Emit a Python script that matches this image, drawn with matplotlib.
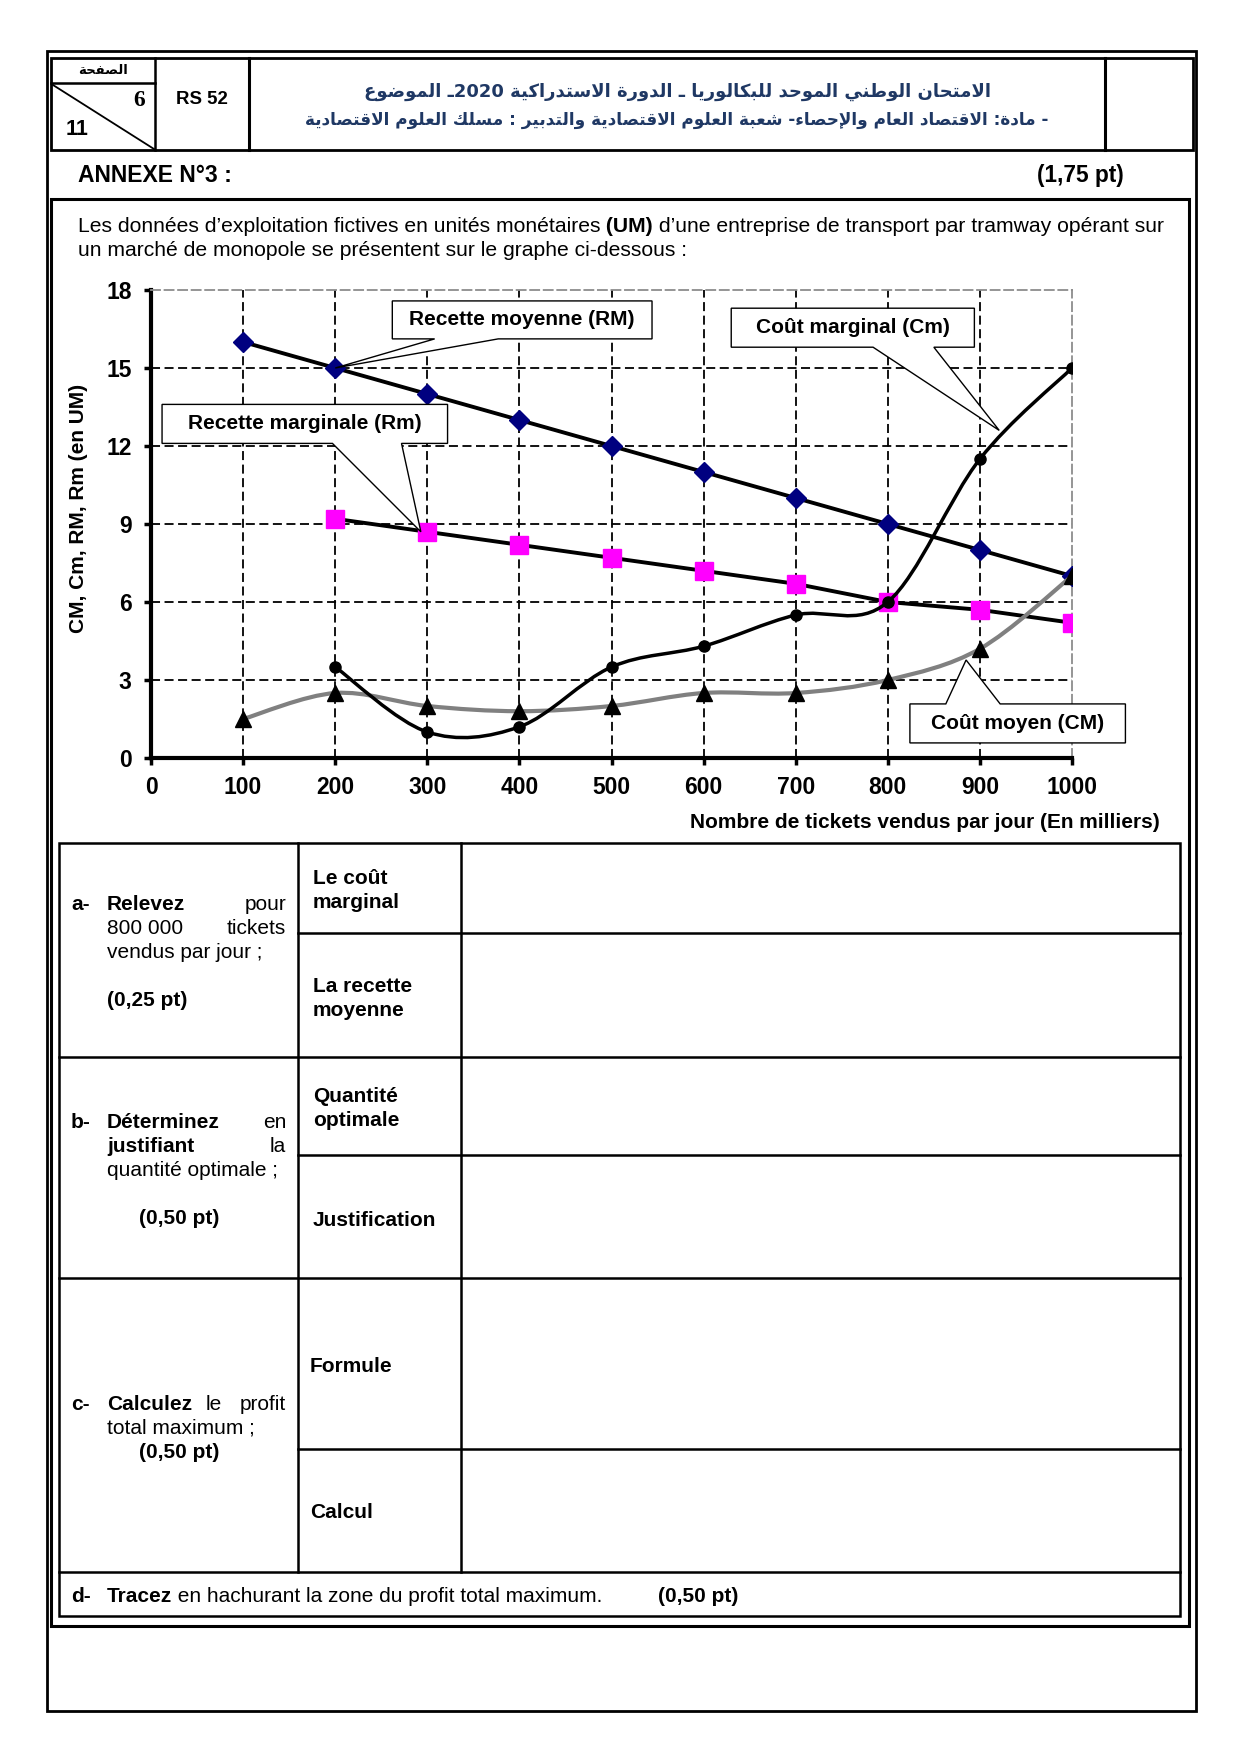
import re
import numpy as np
import matplotlib
matplotlib.use('Agg')
import matplotlib.pyplot as plt
from matplotlib.path import Path
from matplotlib.patches import PathPatch, Polygon, Rectangle

plt.rcParams['font.family'] = ['Liberation Sans', 'DejaVu Sans']

# --- chart data ---
quantites = [100, 200, 300, 400, 500, 600, 700, 800, 900, 1000]
recette_moyenne = [16, 15, 14, 13, 12, 11, 10, 9, 8, 7]
q_marginal = [200, 300, 400, 500, 600, 700, 800, 900, 1000]
recette_marginale = [9.2, 8.7, 8.2, 7.7, 7.2, 6.7, 6.0, 5.7, 5.2]
cout_marginal = [3.5, 1.0, 1.2, 3.5, 4.3, 5.5, 6.0, 11.5, 15.0]
cout_moyen = [1.5, 2.5, 2.0, 1.8, 2.0, 2.5, 2.5, 3.0, 4.2, 7.0]
x_ticks = [0, 100, 200, 300, 400, 500, 600, 700, 800, 900, 1000]
y_ticks = [0, 3, 6, 9, 12, 15, 18]

titre_1 = 'الامتحان الوطني الموحد للبكالوريا ـ الدورة الاستدراكية 2020ـ الموضوع'
titre_2 = '- مادة: الاقتصاد العام والإحصاء- شعبة العلوم الاقتصادية والتدبير : مسلك العلوم الاقتصادية'
page_label = 'الصفحة'

# --- tiny arabic shaper (matplotlib does no shaping / rtl) ---
DUAL = {'ئ': 0xFE89, 'ب': 0xFE8F, 'ت': 0xFE95, 'ث': 0xFE99, 'ج': 0xFE9D, 'ح': 0xFEA1,
        'خ': 0xFEA5, 'س': 0xFEB1, 'ش': 0xFEB5, 'ص': 0xFEB9, 'ض': 0xFEBD, 'ط': 0xFEC1,
        'ظ': 0xFEC5, 'ع': 0xFEC9, 'غ': 0xFECD, 'ف': 0xFED1, 'ق': 0xFED5, 'ك': 0xFED9,
        'ل': 0xFEDD, 'م': 0xFEE1, 'ن': 0xFEE5, 'ه': 0xFEE9, 'ي': 0xFEF1}
RIGHT = {'آ': 0xFE81, 'أ': 0xFE83, 'ؤ': 0xFE85, 'إ': 0xFE87, 'ا': 0xFE8D, 'ة': 0xFE93,
         'د': 0xFEA9, 'ذ': 0xFEAB, 'ر': 0xFEAD, 'ز': 0xFEAF, 'و': 0xFEED, 'ى': 0xFEEF}
LAM_ALEF = {'آ': 0xFEF5, 'أ': 0xFEF7, 'إ': 0xFEF9, 'ا': 0xFEFB}


def arabic(s):
    out, i, prev = [], 0, False
    while i < len(s):
        c = s[i]
        nxt = s[i + 1] if i + 1 < len(s) else ''
        if c == 'ل' and nxt in LAM_ALEF:
            out.append(chr(LAM_ALEF[nxt] + (1 if prev else 0)))
            prev = False
            i += 2
            continue
        if c in DUAL:
            joins = nxt in DUAL or nxt in RIGHT
            f = {(True, True): 3, (True, False): 1, (False, True): 2, (False, False): 0}[(prev, joins)]
            out.append(chr(DUAL[c] + f))
            prev = joins
        elif c in RIGHT:
            out.append(chr(RIGHT[c] + (1 if prev else 0)))
            prev = False
        elif c == 'ء':
            out.append(chr(0xFE80))
            prev = False
        else:
            out.append(c)
            prev = False
        i += 1
    vis = ''.join(out)[::-1]
    return re.sub(r'\d+', lambda m: m.group(0)[::-1], vis)


def smooth_path(xs, ys):
    # excel-like smoothed line: catmull-rom segments as cubic beziers
    pts = np.column_stack([xs, ys]).astype(float)
    n = len(pts)
    verts, codes = [pts[0]], [Path.MOVETO]
    for i in range(n - 1):
        p0 = pts[i - 1] if i > 0 else pts[i]
        p1, p2 = pts[i], pts[i + 1]
        p3 = pts[i + 2] if i + 2 < n else pts[i + 1]
        verts += [p1 + (p2 - p0) / 6, p2 - (p3 - p1) / 6, p2]
        codes += [Path.CURVE4] * 3
    return Path(verts, codes)


fig = plt.figure(figsize=(12.4, 17.54), dpi=100)
renderer = fig.canvas.get_renderer()

# page overlay in pixel units
page = fig.add_axes([0, 0, 1, 1], zorder=0)
page.set_xlim(0, 1240)
page.set_ylim(1754, 0)
page.axis('off')


def line(x0, y0, x1, y1, lw=1.8, color='black'):
    page.plot([x0, x1], [y0, y1], color=color, lw=lw, solid_capstyle='projecting')


def box(x0, y0, x1, y1, lw=1.8):
    page.add_patch(Rectangle((x0, y0), x1 - x0, y1 - y0, fill=False, lw=lw, ec='black'))


def txt(x, y, s, size=15, bold=False, ha='left', **kw):
    return page.text(x, y, s, fontsize=size, fontweight='bold' if bold else 'normal',
                     ha=ha, va='center_baseline', **kw)


def run_width(parts, size):
    w = 0
    for s, b in parts:
        t = txt(0, 0, s, size, b)
        w += t.get_window_extent(renderer).width
        t.remove()
    return w


def runs(x, y, parts, size):
    for s, b in parts:
        t = txt(x, y, s, size, b)
        x += t.get_window_extent(renderer).width


def fit(x, y, s, width, size, ha='center', **kw):
    t = page.text(x, y, s, fontsize=size, ha=ha, va='center_baseline', **kw)
    w = t.get_window_extent(renderer).width
    t.set_fontsize(size * width / w)
    return t


# frames
box(47, 51, 1196, 1711, lw=2)
box(51, 58, 1193, 150, lw=2)
line(154.5, 58, 154.5, 150)
line(249, 58, 249, 150, lw=2.2)
line(1105, 58, 1105, 150, lw=2.2)
line(51, 82.5, 154.5, 82.5)
line(53, 85, 154, 149, lw=1.3)
box(51, 199, 1189, 1626, lw=2.2)

# header texts
page.text(103, 70, arabic(page_label), fontsize=9.5, fontweight='bold', ha='center',
          va='center', family=['DejaVu Sans'])
page.text(145, 101, '6', fontsize=17, fontweight='bold', ha='right', va='center',
          family=['Liberation Serif'])
txt(77, 127, '11', 15.5, True, ha='center')
txt(202, 98, 'RS 52', 13.4, True, ha='center')
fit(677, 90, arabic(titre_1), 630, 14, fontweight='bold', color='#1f3864',
    family=['DejaVu Sans'])
fit(677, 118, arabic(titre_2), 740, 12, fontweight='bold', color='#1f3864',
    family=['DejaVu Sans'])
txt(78, 173, 'ANNEXE N°3 :', 16.5, True)
txt(1124, 173, '(1,75 pt)', 16.3, True, ha='right')

# intro text, first line justified to the frame
intro_1 = [('Les données d’exploitation fictives en unités monétaires', False),
           (' (UM)', True),
           (' d’une entreprise de transport par tramway opérant sur', False)]
intro_2 = [('un marché de monopole se présentent sur le graphe ci-dessous :', False)]
size_intro = 13.5 * 1084 / run_width(intro_1, 13.5)
runs(78, 225, intro_1, size_intro)
runs(78, 249, intro_2, size_intro)

# --- chart ---
ax = fig.add_axes([151 / 1240, 1 - 758 / 1754, 921 / 1240, 468 / 1754], zorder=1)
ax.set_xlim(0, 1000)
ax.set_ylim(0, 18)
dash = (0, (5, 2.5))
ax.vlines(x_ticks[1:-1], 0, 18, colors='black', lw=1.3, linestyles=[dash], zorder=1)
ax.hlines(y_ticks[1:-1], 0, 1000, colors='black', lw=1.3, linestyles=[dash], zorder=1)
for side in ['top', 'right']:
    ax.spines[side].set_color('#8c8c8c')
    ax.spines[side].set_linestyle(dash)
    ax.spines[side].set_linewidth(1.3)
for side in ['left', 'bottom']:
    ax.spines[side].set_linewidth(3)
ax.set_xticks(x_ticks)
ax.set_yticks(y_ticks)
ax.tick_params(direction='out', length=5, width=2.5, labelsize=16.5)
ax.tick_params(axis='x', pad=8)
ax.tick_params(axis='y', pad=9)
for lab in ax.get_xticklabels() + ax.get_yticklabels():
    lab.set_fontweight('bold')
ax.set_ylabel('CM, Cm, RM, Rm (en UM)', fontsize=15, fontweight='bold')
ax.yaxis.label.set_va('center')
ax.yaxis.set_label_coords(-0.079, 0.534)

ax.plot(quantites, recette_moyenne, color='black', lw=2.8, marker='D', ms=10,
        mfc='#000080', mec='#000080', zorder=3)
ax.plot(q_marginal, recette_marginale, color='black', lw=2.8, marker='s', ms=12.5,
        mfc='#ff00ff', mec='#ff00ff', zorder=3)
ax.add_patch(PathPatch(smooth_path(quantites, cout_moyen), fill=False, ec='#808080',
                       lw=3, zorder=4))
ax.add_patch(PathPatch(smooth_path(q_marginal, cout_marginal), fill=False, ec='black',
                       lw=2.5, zorder=4))
ax.plot(q_marginal, cout_marginal, ls='none', marker='o', ms=8, color='black', zorder=5)
ax.plot(quantites, cout_moyen, ls='none', marker='^', ms=11, color='black', zorder=5)


def callout(xb, yb, base, tip, label, top=False):
    x0, x1 = xb
    y0, y1 = yb
    b0, b1 = base
    if top:
        verts = [(x0, y0), (x1, y0), (x1, y1), (b1, y1), tip, (b0, y1), (x0, y1)]
    else:
        verts = [(x0, y1), (x1, y1), (x1, y0), (b1, y0), tip, (b0, y0), (x0, y0)]
    ax.add_patch(Polygon(verts, closed=True, fc='white', ec='black', lw=1, zorder=6,
                         clip_on=False))
    ax.text((x0 + x1) / 2, (y0 + y1) / 2, label, fontsize=15, fontweight='bold',
            ha='center', va='center', zorder=7, clip_on=False)


callout((262, 544), (16.12, 17.58), (308, 377), (200, 15), 'Recette moyenne (RM)')
callout((12, 322), (12.1, 13.6), (197, 272), (293, 8.7), 'Recette marginale (Rm)')
callout((630, 894), (15.8, 17.3), (784, 850), (921, 12.6), 'Coût marginal (Cm)')
callout((824, 1058), (0.58, 2.08), (863, 922), (885, 3.77), 'Coût moyen (CM)', top=True)

txt(1160, 821, 'Nombre de tickets vendus par jour (En milliers)', 15, True, ha='right')

# --- answer table ---
L, R, C1, C2 = 59, 1180, 298, 461
rows = [843, 1057, 1278, 1572, 1616]
box(L, rows[0], R, rows[-1])
for y in rows[1:-1]:
    line(L, y, R, y)
for y in [933, 1155, 1449]:
    line(C1, y, R, y)
line(C1, rows[0], C1, rows[3])
line(C2, rows[0], C2, rows[3])

txt(71, 903, 'a-', bold=True)
txt(107, 903, 'Relevez', bold=True)
txt(286, 903, 'pour', ha='right')
txt(107, 927, '800 000')
txt(286, 927, 'tickets', ha='right')
txt(107, 951, 'vendus par jour ;')
txt(107, 998, '(0,25 pt)', bold=True)

txt(71, 1120, 'b-', bold=True)
txt(107, 1120, 'Déterminez', bold=True)
txt(286, 1120, 'en', ha='right')
txt(107, 1144, 'justifiant', bold=True)
txt(286, 1144, 'la', ha='right')
txt(107, 1168, 'quantité optimale ;')
txt(139, 1216, '(0,50 pt)', bold=True)

txt(71, 1402, 'c-', bold=True)
txt(107, 1402, 'Calculez', bold=True)
txt(214, 1402, 'le', ha='center')
txt(286, 1402, 'profit', ha='right')
txt(107, 1426, 'total maximum ;')
txt(139, 1450, '(0,50 pt)', bold=True)

for y, s in [(877, 'Le coût'), (901, 'marginal'), (984, 'La recette'), (1008, 'moyenne'),
             (1095, 'Quantité'), (1119, 'optimale'), (1218, 'Justification')]:
    txt(313, y, s, bold=True)
for y, s in [(1364, 'Formule'), (1511, 'Calcul')]:
    txt(310, y, s, bold=True)

txt(71, 1594, 'd-', bold=True)
runs(107, 1594, [('Tracez', True), (' en hachurant la zone du profit total maximum.', False)], 15)
txt(658, 1594, '(0,50 pt)', bold=True)

fig.savefig('out.png', dpi=100, facecolor='white')
